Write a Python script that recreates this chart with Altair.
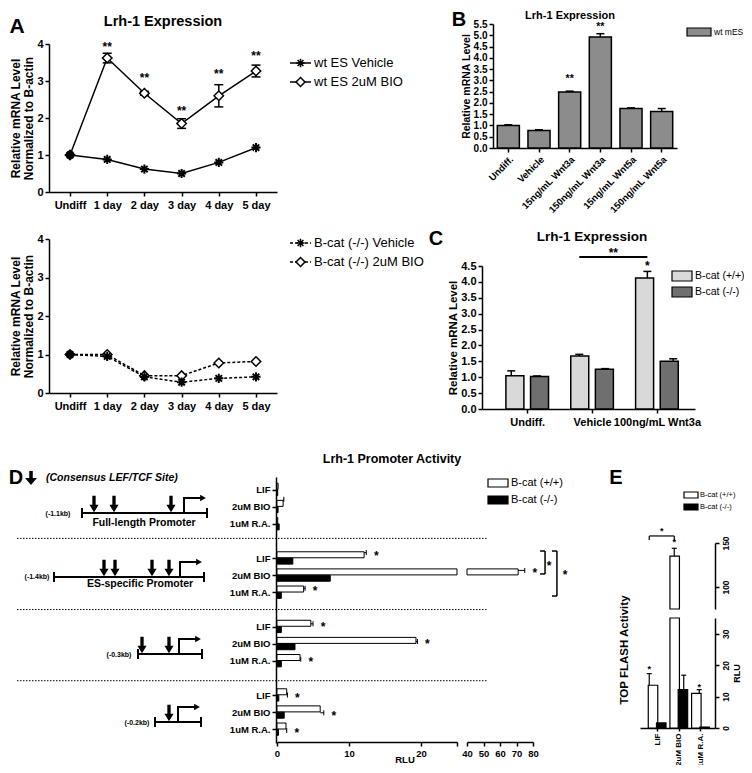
import altair as alt
import pandas as pd

W, H = 736, 757
FONT = "Liberation Sans"


def P(v):
    """page pixel -> chart pixel (page has an 8px margin)"""
    return v - 8


def left_axis(xp, **kw):
    return alt.Axis(orient="left", offset=-P(xp), **kw)


def bottom_axis(yp, **kw):
    return alt.Axis(orient="bottom", offset=P(yp) - H, **kw)


def right_axis(xp, **kw):
    return alt.Axis(orient="right", offset=P(xp) - W, **kw)


def glyph_dy(fs):
    # shift so that an asterisk glyph is centred on the anchor point
    return round(0.575 * fs, 1)


def box_legend(xp, yp_first, row_h, sw, sh, fs, gap=2):
    s = max(sw, sh)
    hx, hy = sw / s, sh / s
    return alt.Legend(orient="none", legendX=P(xp), legendY=P(yp_first) - row_h / 2,
                      title=None, symbolType=f"M{-hx},{-hy}H{hx}V{hy}H{-hx}Z", symbolSize=s * s,
                      symbolStrokeColor="black", symbolStrokeWidth=1.2, labelFont=FONT,
                      labelFontSize=fs, labelFontWeight="normal", labelColor="black",
                      labelOffset=gap, clipHeight=row_h, rowPadding=0, padding=0)


# ======================= DATA =======================
days = ["Undiff", "1 day", "2 day", "3 day", "4 day", "5 day"]

wt_names = ["wt ES Vehicle", "wt ES 2uM BIO"]
wt_vehicle = [1.00, 0.88, 0.62, 0.50, 0.80, 1.20]
wt_bio = [1.00, 3.62, 2.67, 1.85, 2.60, 3.27]
wt_bio_err = [0.00, 0.13, 0.05, 0.13, 0.30, 0.16]
wt_star = ["", "**", "**", "**", "**", "**"]
wt_star_y = [0.0, 4.00, 3.16, 2.27, 3.27, 3.75]

ko_names = ["B-cat (-/-) Vehicle", "B-cat (-/-) 2uM BIO"]
ko_vehicle = [1.00, 0.95, 0.42, 0.28, 0.38, 0.42]
ko_bio = [1.00, 1.00, 0.45, 0.45, 0.78, 0.82]
ko_bio_err = [0.0, 0.0, 0.0, 0.0, 0.0, 0.0]
ko_star = ["", "", "", "", "", ""]
ko_star_y = [0.0] * 6

b_cats = ["Undiff.", "Vehicle", "15ng/mL Wnt3a", "150ng/mL Wnt3a", "15ng/mL Wnt5a", "150ng/mL Wnt5a"]
b_series = ["wt mES"]
b_vals = [1.00, 0.78, 2.48, 4.92, 1.75, 1.62]
b_err = [0.03, 0.03, 0.04, 0.15, 0.03, 0.13]
b_star = ["", "", "**", "**", "", ""]
b_star_y = [0.0, 0.0, 3.20, 5.50, 0.0, 0.0]

geno = ["B-cat (+/+)", "B-cat (-/-)"]
c_cats = ["Undiff.", "Vehicle", "100ng/mL Wnt3a"]
c_plus = [1.05, 1.67, 4.12]
c_plus_err = [0.15, 0.05, 0.21]
c_minus = [1.02, 1.25, 1.50]
c_minus_err = [0.02, 0.02, 0.08]
c_sig = dict(a=1, b=2, y=4.78, star_y=5.0)   # Vehicle vs Wnt3a, B-cat (+/+)
c_star_y = [0.0, 0.0, 4.59]

d_treat = ["LIF", "2uM BIO", "1uM R.A."]
d_constructs = ["Full-length", "ES-specific", "-0.3kb", "-0.2kb"]
d_plus = [[0.15, 0.85, 0.10], [12.1, 71.0, 3.7], [4.7, 19.3, 3.2], [1.35, 6.0, 1.25]]
d_plus_err = [[0.0, 0.1, 0.0], [0.3, 4.0, 0.2], [0.3, 0.2, 0.1], [0.1, 0.5, 0.1]]
d_minus = [[0.10, 0.15, 0.30], [2.2, 7.4, 0.6], [0.6, 2.5, 0.6], [0.25, 1.0, 0.2]]
d_star = [[False] * 3, [True] * 3, [True] * 3, [True] * 3]
# significance brackets (RLU, row) on the ES-specific construct
d_brackets = [(84.3, 87.3, 3.71, 5.0), (91.5, 94.5, 3.71, 6.24)]
d_bracket_stars = [(89.7, 4.38), (99.4, 4.89)]

e_treat = ["LIF", "2uM BIO", "1uM R.A."]
e_plus = [13.6, 135.0, 11.0]
e_plus_err = [3.7, 9.0, 1.2]
e_minus = [1.6, 12.2, 0.3]
e_minus_err = [0.0, 4.6, 0.0]
e_star_low = [(-0.19, 19.4), (1.81, 13.7)]
e_star_high = [(0.81, 153.4), (0.31, 165.9)]
e_bracket = dict(x1=-0.19, x2=0.81, y=158.0, tick=153.4)

units = []

# ======================= PANEL A =======================
AST = "M-1,0H1M0,-1V1M-0.7,-0.7L0.7,0.7M-0.7,0.7L0.7,-0.7"


def line_panel(names, veh, bio, bio_err, stars, star_y, y0p, y4p, dash, leg_rows):
    xs = alt.Scale(type="point", domain=days, range=[P(49), P(277)], padding=0.565)
    ys = alt.Scale(domain=[0, 4], range=[P(y0p), P(y4p)], nice=False, zero=False)
    X = alt.X("day:N", scale=xs, sort=days, axis=None)
    n = len(days)
    df = pd.DataFrame({"day": days * 2, "i": list(range(n)) * 2,
                       "series": [names[0]] * n + [names[1]] * n, "value": veh + bio})
    kw = dict(color="black", strokeWidth=1.5)
    if dash:
        kw["strokeDash"] = dash
    out = [alt.Chart(df).mark_line(**kw).encode(
        x=alt.X("day:N", scale=xs, sort=days,
                axis=bottom_axis(y0p, title=None, labelAngle=0, labelFontSize=11, labelPadding=3)),
        y=alt.Y("value:Q", scale=ys,
                axis=left_axis(49, values=[0, 1, 2, 3, 4], labelFontSize=11,
                               title=["Relative mRNA Level", "Normalized to B-actin"],
                               titleFontSize=12, titleLineHeight=13, titlePadding=1)),
        detail="series:N", order="i:Q")]
    e = pd.DataFrame({"day": days,
                      "lo": [b - d for b, d in zip(bio, bio_err)],
                      "hi": [b + d for b, d in zip(bio, bio_err)],
                      "err": bio_err})
    e = e[e["err"] > 0]
    if len(e):
        out.append(alt.Chart(e).mark_rule(color="black", strokeWidth=1.5).encode(
            x=X, y=alt.Y("lo:Q", scale=ys, axis=None), y2="hi:Q"))
        caps = pd.DataFrame({"day": list(e["day"]) * 2, "v": list(e["lo"]) + list(e["hi"])})
        out.append(alt.Chart(caps).mark_tick(color="black", thickness=1.5, size=9, opacity=1,
                                             orient="horizontal").encode(
            x=X, y=alt.Y("v:Q", scale=ys, axis=None)))
    pb = pd.DataFrame({"day": days, "value": bio})
    out.append(alt.Chart(pb).mark_point(shape="diamond", size=90, filled=True, stroke="black",
                                        strokeWidth=1.5, opacity=1).encode(
        x=X, y=alt.Y("value:Q", scale=ys, axis=None),
        fill=alt.condition(alt.datum.day == "Undiff", alt.value("black"), alt.value("white"))))
    pv = pd.DataFrame({"day": days, "value": veh})
    out.append(alt.Chart(pv).mark_point(shape=AST, size=85, filled=False, stroke="black",
                                        strokeWidth=2, opacity=1).encode(
        x=X, y=alt.Y("value:Q", scale=ys, axis=None)))
    st = pd.DataFrame({"day": days, "t": stars, "y": star_y})
    st = st[st["t"] != ""]
    if len(st):
        out.append(alt.Chart(st).mark_text(font=FONT, fontSize=12, fontWeight="bold", color="black",
                                           baseline="alphabetic", dy=glyph_dy(12)).encode(
            x=X, y=alt.Y("y:Q", scale=ys, axis=None), text="t:N"))
    # legend (line sample + marker + label)
    ldf = pd.DataFrame({"series": names})
    LY = alt.Y("series:N", scale=alt.Scale(type="point", domain=names,
                                           range=[P(leg_rows[0]), P(leg_rows[1])], padding=0), axis=None)
    out.append(alt.Chart(ldf).mark_rule(**kw).encode(y=LY, x=alt.value(P(290)), x2=alt.value(P(311))))
    out.append(alt.Chart(ldf).mark_point(filled=True, fill="white", stroke="black", strokeWidth=1.5,
                                         opacity=1).encode(
        y=LY, x=alt.value(P(300.5)),
        shape=alt.Shape("series:N", scale=alt.Scale(domain=names, range=[AST, "diamond"]), legend=None),
        size=alt.Size("series:N", scale=alt.Scale(domain=names, range=[70, 80]), legend=None)))
    out.append(alt.Chart(ldf).mark_text(font=FONT, fontSize=13, color="black", align="left",
                                        baseline="middle").encode(
        y=LY, x=alt.value(P(314)), text="series:N"))
    return out


units += line_panel(wt_names, wt_vehicle, wt_bio, wt_bio_err, wt_star, wt_star_y, 192, 44, None, (63, 82))
units += line_panel(ko_names, ko_vehicle, ko_bio, ko_bio_err, ko_star, ko_star_y, 393, 239, [3, 2],
                    (243, 262))

# ======================= PANEL B =======================
xsB = alt.Scale(type="band", domain=b_cats, range=[P(493), P(677)], paddingInner=0.28, paddingOuter=0.14)
ysB = alt.Scale(domain=[0, 5.5], range=[P(148), P(24)], nice=False, zero=False)
XB = alt.X("cat:N", scale=xsB, sort=b_cats, axis=None)
dfB = pd.DataFrame({"cat": b_cats, "value": b_vals, "err": b_err, "series": b_series * len(b_cats),
                    "t": b_star, "sy": b_star_y})
dfB["hi"] = dfB["value"] + dfB["err"]
units.append(alt.Chart(dfB).mark_bar(stroke="black", strokeWidth=1.5).encode(
    x=alt.X("cat:N", scale=xsB, sort=b_cats,
            axis=bottom_axis(148, title=None, labelAngle=-45, labelFontSize=9.5, labelPadding=2)),
    y=alt.Y("value:Q", scale=ysB,
            axis=left_axis(493, values=[i * 0.5 for i in range(12)], format=".1f", labelFontSize=10,
                           title="Relative mRNA Level", titleFontSize=10.5, titlePadding=2)),
    fill=alt.Fill("series:N", scale=alt.Scale(domain=b_series, range=["#8c8c8c"]),
                  legend=box_legend(686, 32, 12, 24, 8, 8.5))))
units.append(alt.Chart(dfB).mark_rule(color="black", strokeWidth=1.5).encode(
    x=XB, y=alt.Y("value:Q", scale=ysB, axis=None), y2="hi:Q"))
units.append(alt.Chart(dfB).mark_tick(color="black", thickness=1.5, size=8, opacity=1,
                                      orient="horizontal").encode(
    x=XB, y=alt.Y("hi:Q", scale=ysB, axis=None)))
units.append(alt.Chart(dfB[dfB["t"] != ""]).mark_text(
    font=FONT, fontSize=10.5, fontWeight="bold", color="black", baseline="alphabetic",
    dy=glyph_dy(10.5)).encode(x=XB, y=alt.Y("sy:Q", scale=ysB, axis=None), text="t:N"))

# ======================= PANEL C =======================
xsC = alt.Scale(domain=[-0.62, 2.51], range=[P(482), P(695)], nice=False, zero=False)
ysC = alt.Scale(domain=[0, 4.5], range=[P(409), P(266)], nice=False, zero=False)
c_off = [-0.19, 0.19]
recs = []
for k, (vals, errs) in enumerate([(c_plus, c_plus_err), (c_minus, c_minus_err)]):
    for g in range(len(c_cats)):
        recs.append(dict(x=g + c_off[k], series=geno[k], value=vals[g], hi=vals[g] + errs[g]))
dfC = pd.DataFrame(recs)
XC = alt.X("x:Q", scale=xsC, axis=None)
c_label_expr = "[" + ",".join(f"'{c}'" for c in c_cats) + "][datum.value]"
units.append(alt.Chart(dfC).mark_bar(orient="vertical", size=18, stroke="black", strokeWidth=1.5).encode(
    x=alt.X("x:Q", scale=xsC,
            axis=bottom_axis(409, values=[0, 1, 2], labelExpr=c_label_expr, title=None,
                             labelFontSize=11, labelPadding=3)),
    y=alt.Y("value:Q", scale=ysC,
            axis=left_axis(482, values=[i * 0.5 for i in range(10)], format=".1f", labelFontSize=11,
                           title="Relative mRNA Level", titleFontSize=11.5, titlePadding=2)),
    fill=alt.Fill("series:N", scale=alt.Scale(domain=geno, range=["#d9d9d9", "#6f6f6f"]),
                  legend=box_legend(671, 276, 16, 20, 10, 10.5))))
units.append(alt.Chart(dfC).mark_rule(color="black", strokeWidth=1.5).encode(
    x=XC, y=alt.Y("value:Q", scale=ysC, axis=None), y2="hi:Q"))
units.append(alt.Chart(dfC).mark_tick(color="black", thickness=1.5, size=8, opacity=1,
                                      orient="horizontal").encode(
    x=XC, y=alt.Y("hi:Q", scale=ysC, axis=None)))
sig = pd.DataFrame({"x1": [c_sig["a"] + c_off[0]], "x2": [c_sig["b"] + c_off[0]], "y": [c_sig["y"]]})
units.append(alt.Chart(sig).mark_rule(color="black", strokeWidth=2).encode(
    x=alt.X("x1:Q", scale=xsC, axis=None), x2="x2:Q", y=alt.Y("y:Q", scale=ysC, axis=None)))
cst = pd.DataFrame({"x": [(c_sig["a"] + c_sig["b"]) / 2 + c_off[0], 2 + c_off[0]],
                    "y": [c_sig["star_y"], c_star_y[2]], "t": ["**", "*"]})
units.append(alt.Chart(cst).mark_text(font=FONT, fontSize=12, fontWeight="bold", color="black",
                                      baseline="alphabetic", dy=glyph_dy(12)).encode(
    x=XC, y=alt.Y("y:Q", scale=ysC, axis=None), text="t:N"))

# ======================= PANEL D =======================
xsD1 = alt.Scale(domain=[0, 25], range=[P(277), P(457)], nice=False, zero=False)
xsD2 = alt.Scale(domain=[40, 80], range=[P(467), P(533)], nice=False, zero=False)
ysD = alt.Scale(domain=[-0.45, 14.5], range=[P(477), P(743)], nice=False, zero=False)
recs = []
for g in range(len(d_constructs)):
    for t in range(len(d_treat)):
        r = g * 4 + t
        recs.append(dict(row=r, yc=r - 0.2, series=geno[0], v=d_plus[g][t], err=d_plus_err[g][t],
                         star=d_star[g][t]))
        recs.append(dict(row=r, yc=r + 0.17, series=geno[1], v=d_minus[g][t], err=0.0, star=False))
dfD = pd.DataFrame(recs)
dfD["v1"] = dfD["v"].clip(upper=25)
dfD["hi"] = dfD["v"] + dfD["err"]
dfD["x0"] = 40
row_ticks = [g * 4 + t for g in range(4) for t in range(3)]
d_label_expr = "[" + ",".join(f"'{c}'" for c in d_treat) + "][datum.value % 4]"
YD = alt.Y("yc:Q", scale=ysD, axis=None)
units.append(alt.Chart(dfD).mark_bar(orient="horizontal", size=6, stroke="black", strokeWidth=1).encode(
    y=alt.Y("yc:Q", scale=ysD,
            axis=left_axis(276, values=row_ticks, labelExpr=d_label_expr, title=None,
                           labelFontSize=9.5, labelPadding=2)),
    x=alt.X("v1:Q", scale=xsD1,
            axis=bottom_axis(742, values=[0, 10, 20, 25],
                             labelExpr="datum.value == 25 ? '' : datum.label",
                             title=None, labelFontSize=9.5, labelPadding=2)),
    fill=alt.Fill("series:N", scale=alt.Scale(domain=geno, range=["white", "black"]),
                  legend=box_legend(487, 483, 17, 20, 8, 11))))
big = dfD[dfD["v"] > 40]
units.append(alt.Chart(big).mark_bar(orient="horizontal", size=6, stroke="black", strokeWidth=1,
                                     fill="white").encode(
    y=YD,
    x=alt.X("v:Q", scale=xsD2,
            axis=bottom_axis(742, values=[40, 50, 60, 70, 80], title=None, labelFontSize=9.5,
                             labelPadding=2)),
    x2="x0:Q"))
small_err = dfD[(dfD["err"] > 0) & (dfD["v"] < 25)]
units.append(alt.Chart(small_err).mark_rule(color="black", strokeWidth=1).encode(
    y=YD, x=alt.X("v:Q", scale=xsD1, axis=None), x2="hi:Q"))
units.append(alt.Chart(small_err).mark_tick(color="black", thickness=1, size=5, opacity=1,
                                            orient="vertical").encode(
    y=YD, x=alt.X("hi:Q", scale=xsD1, axis=None)))
units.append(alt.Chart(big).mark_rule(color="black", strokeWidth=1).encode(
    y=YD, x=alt.X("v:Q", scale=xsD2, axis=None), x2="hi:Q"))
units.append(alt.Chart(big).mark_tick(color="black", thickness=1, size=5, opacity=1,
                                      orient="vertical").encode(
    y=YD, x=alt.X("hi:Q", scale=xsD2, axis=None)))
units.append(alt.Chart(dfD[(dfD["star"]) & (dfD["v"] < 25)]).mark_text(
    text="*", font=FONT, fontSize=12, fontWeight="bold", color="black", baseline="alphabetic",
    dx=10, dy=glyph_dy(12)).encode(y=YD, x=alt.X("hi:Q", scale=xsD1, axis=None)))
units.append(alt.Chart(dfD[(dfD["star"]) & (dfD["v"] > 40)]).mark_text(
    text="*", font=FONT, fontSize=12, fontWeight="bold", color="black", baseline="alphabetic",
    dx=10, dy=glyph_dy(12)).encode(y=YD, x=alt.X("hi:Q", scale=xsD2, axis=None)))
sep = pd.DataFrame({"row": [3, 7, 11]})
units.append(alt.Chart(sep).mark_rule(color="black", strokeWidth=1, strokeDash=[1.5, 1.5]).encode(
    y=alt.Y("row:Q", scale=ysD, axis=None), x=alt.value(P(17)), x2=alt.value(P(488))))
seg = []
for xl, xv, yt, yb in d_brackets:
    seg += [dict(x=xv, x2=xv, y=yt, y2=yb), dict(x=xl, x2=xv, y=yt, y2=yt), dict(x=xl, x2=xv, y=yb, y2=yb)]
units.append(alt.Chart(pd.DataFrame(seg)).mark_rule(color="black", strokeWidth=1.5).encode(
    x=alt.X("x:Q", scale=xsD2, axis=None), x2="x2:Q", y=alt.Y("y:Q", scale=ysD, axis=None), y2="y2:Q"))
units.append(alt.Chart(pd.DataFrame(d_bracket_stars, columns=["x", "y"])).mark_text(
    text="*", font=FONT, fontSize=12, fontWeight="bold", color="black", baseline="alphabetic",
    dy=glyph_dy(12)).encode(x=alt.X("x:Q", scale=xsD2, axis=None), y=alt.Y("y:Q", scale=ysD, axis=None)))

# ---- promoter schematics (drawing units = page px) ----
promoters = [
    dict(x0=82, x1=207, y=513, sites=[94, 114, 171], tss=184),
    dict(x0=54, x1=204, y=577, sites=[104, 115, 152, 169], tss=180),
    dict(x0=138, x1=202, y=654, sites=[142, 169], tss=179),
    dict(x0=155, x1=201, y=722, sites=[169], tss=178),
]
segs, sites, heads = [], [], []
for pr in promoters:
    y = pr["y"]
    segs += [(pr["x0"], y, pr["x1"], y), (pr["x0"], y - 4, pr["x0"], y + 4), (pr["x1"], y - 4, pr["x1"], y + 4),
             (pr["tss"], y, pr["tss"], y - 15), (pr["tss"], y - 15, pr["tss"] + 17, y - 15)]
    heads.append((pr["tss"] + 19, y - 15))
    sites += [(sx, y - 9) for sx in pr["sites"]]
segdf = pd.DataFrame([dict(x1=P(a), y1=P(b), x2=P(c), y2=P(d)) for a, b, c, d in segs])
units.append(alt.Chart(segdf).mark_rule(color="black", strokeWidth=2, strokeCap="square").encode(
    x=alt.X("x1:Q", scale=None, axis=None), y=alt.Y("y1:Q", scale=None, axis=None),
    x2="x2:Q", y2="y2:Q"))
ARROW = "M-0.2,-1L0.2,-1L0.2,0.1L0.55,0.1L0,1L-0.55,0.1L-0.2,0.1Z"
ARROW_BIG = "M-0.25,-1L0.25,-1L0.25,0L0.85,0L0,1L-0.85,0L-0.25,0Z"
sitedf = pd.DataFrame([dict(x=P(a), y=P(b)) for a, b in sites])
units.append(alt.Chart(sitedf).mark_point(shape=ARROW, size=276, filled=True, color="black",
                                          strokeWidth=0, opacity=1).encode(
    x=alt.X("x:Q", scale=None, axis=None), y=alt.Y("y:Q", scale=None, axis=None)))
units.append(alt.Chart(pd.DataFrame({"x": [P(31)], "y": [P(478)]})).mark_point(
    shape=ARROW_BIG, size=196, filled=True, color="black", strokeWidth=0, opacity=1).encode(
    x=alt.X("x:Q", scale=None, axis=None), y=alt.Y("y:Q", scale=None, axis=None)))
headdf = pd.DataFrame([dict(x=P(a), y=P(b)) for a, b in heads])
units.append(alt.Chart(headdf).mark_point(shape="triangle-right", size=45, filled=True, color="black",
                                          opacity=1).encode(
    x=alt.X("x:Q", scale=None, axis=None), y=alt.Y("y:Q", scale=None, axis=None)))

# ======================= PANEL E =======================
xsE = alt.Scale(domain=[-0.56, 2.44], range=[P(640), P(715)], nice=False, zero=False)
ysE1 = alt.Scale(domain=[0, 35], range=[P(728), P(618)], nice=False, zero=False)
ysE2 = alt.Scale(domain=[75, 150], range=[P(609), P(543)], nice=False, zero=False)
e_off = [-0.19, 0.19]
recs = []
for k, (vals, errs) in enumerate([(e_plus, e_plus_err), (e_minus, e_minus_err)]):
    for g in range(len(e_treat)):
        recs.append(dict(x=g + e_off[k], series=geno[k], v=vals[g], err=errs[g], hi=vals[g] + errs[g]))
dfE = pd.DataFrame(recs)
dfE["vlow"] = dfE["v"].clip(upper=35)
dfE["base"] = 75
XE = alt.X("x:Q", scale=xsE, axis=None)
e_label_expr = "[" + ",".join(f"'{c}'" for c in e_treat) + "][datum.value]"
rot = dict(labelAngle=270, labelAlign="center", labelBaseline="top", labelFontSize=8.5, labelPadding=2)
units.append(alt.Chart(dfE).mark_bar(orient="vertical", size=9.5, stroke="black", strokeWidth=1.2).encode(
    x=alt.X("x:Q", scale=xsE,
            axis=bottom_axis(728, values=[0, 1, 2], labelExpr=e_label_expr, title=None, labelAngle=270,
                             labelAlign="right", labelBaseline="middle", labelFontSize=8,
                             labelPadding=2, tickSize=3)),
    y=alt.Y("vlow:Q", scale=ysE1,
            axis=right_axis(715, values=[0, 10, 20, 30], title="RLU", titleAngle=270, titleBaseline="top",
                            titleFontSize=9, titlePadding=3, **rot)),
    fill=alt.Fill("series:N", scale=alt.Scale(domain=geno, range=["white", "black"]),
                  legend=box_legend(683, 495, 12, 14, 6, 7.5, gap=1))))
hiE = dfE[dfE["v"] > 35]
units.append(alt.Chart(hiE).mark_bar(orient="vertical", size=9.5, stroke="black", strokeWidth=1.2,
                                     fill="white").encode(
    x=XE, y=alt.Y("v:Q", scale=ysE2, axis=right_axis(715, values=[100, 150], title=None, **rot)),
    y2="base:Q"))
loE = dfE[(dfE["v"] <= 35) & (dfE["err"] > 0)]
units.append(alt.Chart(loE).mark_rule(color="black", strokeWidth=1.2).encode(
    x=XE, y=alt.Y("v:Q", scale=ysE1, axis=None), y2="hi:Q"))
units.append(alt.Chart(loE).mark_tick(color="black", thickness=1.2, size=5, opacity=1,
                                      orient="horizontal").encode(
    x=XE, y=alt.Y("hi:Q", scale=ysE1, axis=None)))
units.append(alt.Chart(hiE).mark_rule(color="black", strokeWidth=1.2).encode(
    x=XE, y=alt.Y("v:Q", scale=ysE2, axis=None), y2="hi:Q"))
units.append(alt.Chart(hiE).mark_tick(color="black", thickness=1.2, size=5, opacity=1,
                                      orient="horizontal").encode(
    x=XE, y=alt.Y("hi:Q", scale=ysE2, axis=None)))
units.append(alt.Chart(pd.DataFrame(e_star_low, columns=["x", "y"])).mark_text(
    text="*", font=FONT, fontSize=9, fontWeight="bold", color="black", baseline="alphabetic",
    dy=glyph_dy(9)).encode(x=XE, y=alt.Y("y:Q", scale=ysE1, axis=None)))
units.append(alt.Chart(pd.DataFrame(e_star_high, columns=["x", "y"])).mark_text(
    text="*", font=FONT, fontSize=9, fontWeight="bold", color="black", baseline="alphabetic",
    dy=glyph_dy(9)).encode(x=XE, y=alt.Y("y:Q", scale=ysE2, axis=None)))
eb = e_bracket
ebseg = pd.DataFrame([dict(x=eb["x1"], x2=eb["x2"], y=eb["y"], y2=eb["y"]),
                      dict(x=eb["x1"], x2=eb["x1"], y=eb["y"], y2=eb["tick"]),
                      dict(x=eb["x2"], x2=eb["x2"], y=eb["y"], y2=eb["tick"])])
units.append(alt.Chart(ebseg).mark_rule(color="black", strokeWidth=1.2).encode(
    x=XE, x2="x2:Q", y=alt.Y("y:Q", scale=ysE2, axis=None), y2="y2:Q"))

# ======================= TEXT ANNOTATIONS =======================
bold_texts = [
    ("A", 17, 27, 21, 0), ("Lrh-1 Expression", 163, 22, 14.5, 0),
    ("B", 459, 20, 20, 0), ("Lrh-1 Expression", 570, 15.5, 11, 0),
    ("C", 436, 239, 20, 0), ("Lrh-1 Expression", 592, 237, 13.5, 0),
    ("D", 16, 478, 20, 0), ("Lrh-1 Promoter Activity", 392, 459, 12.5, 0),
    ("RLU", 405, 760, 9.5, 0),
    ("E", 616, 478, 20, 0), ("TOP FLASH Activity", 625, 650, 11.5, 270),
    ("(-1.1kb)", 58, 514, 7, 0), ("Full-length Promoter", 144, 523, 10.5, 0),
    ("(-1.4kb)", 37, 577, 7, 0), ("ES-specific Promoter", 140, 584, 10.5, 0),
    ("(-0.3kb)", 119, 655, 7, 0), ("(-0.2kb)", 137, 723, 7, 0),
]
tdf = pd.DataFrame([dict(t=t, x=P(x), y=P(y), s=s, a=a) for t, x, y, s, a in bold_texts])
units.append(alt.Chart(tdf).mark_text(font=FONT, fontWeight="bold", color="black", align="center",
                                      baseline="middle").encode(
    x=alt.X("x:Q", scale=None, axis=None), y=alt.Y("y:Q", scale=None, axis=None),
    text="t:N", size=alt.Size("s:Q", scale=None, legend=None), angle=alt.Angle("a:Q", scale=None)))
idf = pd.DataFrame([dict(t="(Consensus LEF/TCF Site)", x=P(46), y=P(478))])
units.append(alt.Chart(idf).mark_text(font=FONT, fontWeight="bold", fontStyle="italic", fontSize=10.5,
                                      color="black", align="left", baseline="middle").encode(
    x=alt.X("x:Q", scale=None, axis=None), y=alt.Y("y:Q", scale=None, axis=None), text="t:N"))

chart = alt.layer(*units).resolve_scale(
    x="independent", y="independent", fill="independent", shape="independent", size="independent"
).properties(
    width=W, height=H, padding=0, autosize=alt.AutoSizeParams(type="none"), background="white"
).configure_view(strokeWidth=0).configure_axis(
    grid=False, labelFont=FONT, titleFont=FONT, labelFontWeight="bold", titleFontWeight="bold",
    labelColor="black", titleColor="black", domainColor="black", tickColor="black",
    domainWidth=1.5, tickWidth=1.5, tickSize=4, labelOverlap=False, labelFlush=False
).configure_legend(labelFont=FONT, labelColor="black")

chart.save("out.html", embed_options={"renderer": "svg", "actions": False})
